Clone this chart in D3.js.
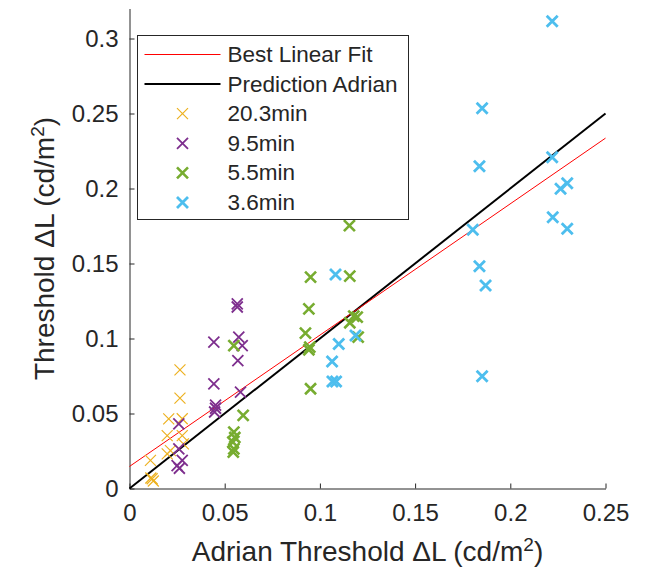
<!DOCTYPE html>
<html>
<head>
<meta charset="utf-8">
<script src="https://cdn.jsdelivr.net/npm/d3@7"></script>
<style>
  body { margin: 0; background: #fff; }
  svg text { font-family: "Liberation Sans", Arial, sans-serif; fill: #262626; }
</style>
</head>
<body>
<div id="chart"></div>
<script>
const yellow203 = [
    [0.0265, 0.0791], [0.0265, 0.0602], [0.0206, 0.0464], [0.0277, 0.0465],
    [0.0198, 0.0353], [0.0277, 0.0353], [0.0215, 0.0253], [0.0283, 0.0298],
    [0.0198, 0.0231], [0.0110, 0.0187], [0.0119, 0.0065], [0.0125, 0.0050],
    [0.0112, 0.0070]
];
const purple95 = [
    [0.0566, 0.1231], [0.0566, 0.1210], [0.0443, 0.0976], [0.0574, 0.1009],
    [0.0592, 0.0953], [0.0569, 0.0853], [0.0443, 0.0698], [0.0583, 0.0642],
    [0.0452, 0.0556], [0.0452, 0.0535], [0.0447, 0.0510], [0.0259, 0.0431],
    [0.0259, 0.0264], [0.0277, 0.0187], [0.0250, 0.0153], [0.0262, 0.0135]
];
const green55 = [
    [0.1155, 0.1753], [0.0951, 0.1409], [0.1157, 0.1416], [0.0942, 0.1198],
    [0.0924, 0.1036], [0.0947, 0.0942], [0.0942, 0.0925], [0.1178, 0.1149],
    [0.1196, 0.1142], [0.1157, 0.1105], [0.1201, 0.1009], [0.0951, 0.0665],
    [0.0548, 0.0953], [0.0597, 0.0487], [0.0548, 0.0376], [0.0553, 0.0340],
    [0.0543, 0.0309], [0.0548, 0.0264], [0.0545, 0.0242]
];
const blue36 = [
    [0.2220, 0.3115], [0.1852, 0.2535], [0.1838, 0.2149], [0.2220, 0.2209],
    [0.2264, 0.1998], [0.2299, 0.2035], [0.2223, 0.1809], [0.2299, 0.1731],
    [0.1803, 0.1725], [0.1838, 0.1482], [0.1870, 0.1353], [0.1852, 0.0749],
    [0.1082, 0.1427], [0.1187, 0.1020], [0.1099, 0.0964], [0.1064, 0.0847],
    [0.1066, 0.0713], [0.1085, 0.0713]
];

const seriesNames = ["20.3min", "9.5min", "5.5min", "3.6min"];
const seriesColors = ["#EDB120", "#7E2F8E", "#77AC30", "#4DBEEE"];
const seriesWidths = [1.2, 1.8, 2.6, 2.8];
const seriesData = [yellow203, purple95, green55, blue36];

// fitted line y = a + b*x, and the prediction y = x
const fitIntercept = 0.0147;
const fitSlope = 0.8755;
const lineNames = ["Best Linear Fit", "Prediction Adrian"];

const xTicks = [0, 0.05, 0.1, 0.15, 0.2, 0.25];
const xTickLabels = ["0", "0.05", "0.1", "0.15", "0.2", "0.25"];
const yTicks = [0, 0.05, 0.1, 0.15, 0.2, 0.25, 0.3];
const yTickLabels = ["0", "0.05", "0.1", "0.15", "0.2", "0.25", "0.3"];

const width = 654, height = 574;
const axisColor = "#262626";

const svg = d3.select("#chart").append("svg")
    .attr("width", width)
    .attr("height", height);

const x = d3.scaleLinear().domain([0, 0.25]).range([129.5, 605.5]);
const y = d3.scaleLinear().domain([0, 0.32]).range([488.5, 8.5]);

// axes (ticks point inward like matlab)
const xAxis = svg.append("g")
    .attr("transform", `translate(0,${y(0)})`)
    .call(d3.axisBottom(x)
        .tickValues(xTicks)
        .tickFormat((d, i) => xTickLabels[i])
        .tickSizeInner(-5)
        .tickSizeOuter(0)
        .tickPadding(15));

const yAxis = svg.append("g")
    .attr("transform", `translate(${x(0)},0)`)
    .call(d3.axisLeft(y)
        .tickValues(yTicks)
        .tickFormat((d, i) => yTickLabels[i])
        .tickSizeInner(-5)
        .tickSizeOuter(0)
        .tickPadding(11));

[xAxis, yAxis].forEach(g => {
    g.select(".domain").attr("stroke", axisColor).attr("stroke-width", 1);
    g.selectAll(".tick line").attr("stroke", axisColor).attr("stroke-width", 1);
    g.selectAll(".tick text")
        .attr("fill", axisColor)
        .style("font-size", "24px")
        .style("font-family", "Liberation Sans, Arial, sans-serif");
});

// lines
const xEnds = [0, 0.25];
const plot = svg.append("g");

plot.append("line")
    .attr("x1", x(xEnds[0])).attr("y1", y(xEnds[0]))
    .attr("x2", x(xEnds[1])).attr("y2", y(xEnds[1]))
    .attr("stroke", "#000")
    .attr("stroke-width", 2);

plot.append("line")
    .attr("x1", x(xEnds[0])).attr("y1", y(fitIntercept + fitSlope * xEnds[0]))
    .attr("x2", x(xEnds[1])).attr("y2", y(fitIntercept + fitSlope * xEnds[1]))
    .attr("stroke", "#FF0000")
    .attr("stroke-width", 1);

// x markers
const markerHalf = 5.5;
const crossPath = (cx, cy, h) =>
    `M${cx - h},${cy - h}L${cx + h},${cy + h}M${cx - h},${cy + h}L${cx + h},${cy - h}`;

seriesData.forEach((data, s) => {
    plot.append("g")
        .selectAll("path")
        .data(data)
        .enter()
        .append("path")
        .attr("d", d => crossPath(x(d[0]), y(d[1]), markerHalf))
        .attr("fill", "none")
        .attr("stroke", seriesColors[s])
        .attr("stroke-width", seriesWidths[s]);
});

// legend
const legend = svg.append("g").attr("transform", "translate(137.5,35.5)");
legend.append("rect")
    .attr("width", 271)
    .attr("height", 184)
    .attr("fill", "#fff")
    .attr("stroke", axisColor)
    .attr("stroke-width", 1);

const rowY = i => 19 + i * 29.6;
const textX = 90;

legend.append("line")
    .attr("x1", 7).attr("x2", 83)
    .attr("y1", rowY(0)).attr("y2", rowY(0))
    .attr("stroke", "#FF0000").attr("stroke-width", 1);
legend.append("line")
    .attr("x1", 7).attr("x2", 83)
    .attr("y1", rowY(1)).attr("y2", rowY(1))
    .attr("stroke", "#000").attr("stroke-width", 2);

lineNames.forEach((name, i) => {
    legend.append("text")
        .attr("x", textX)
        .attr("y", rowY(i))
        .attr("dominant-baseline", "central")
        .style("font-size", "22.5px")
        .text(name);
});

seriesNames.forEach((name, s) => {
    const cy = rowY(s + 2);
    legend.append("path")
        .attr("d", crossPath(45, cy, markerHalf))
        .attr("fill", "none")
        .attr("stroke", seriesColors[s])
        .attr("stroke-width", seriesWidths[s]);
    legend.append("text")
        .attr("x", textX)
        .attr("y", cy)
        .attr("dominant-baseline", "central")
        .style("font-size", "22.5px")
        .text(name);
});

// axis labels
const xLabel = svg.append("text")
    .attr("x", (x(0) + x(0.25)) / 2)
    .attr("y", 561)
    .attr("text-anchor", "middle")
    .style("font-size", "28px");
xLabel.append("tspan").text("Adrian Threshold \u0394L (cd/m");
xLabel.append("tspan").attr("baseline-shift", "super").style("font-size", "19px").text("2");
xLabel.append("tspan").text(")");

const yLabel = svg.append("text")
    .attr("transform", `translate(54,${(y(0) + y(0.32)) / 2}) rotate(-90)`)
    .attr("text-anchor", "middle")
    .style("font-size", "28px");
yLabel.append("tspan").text("Threshold \u0394L (cd/m");
yLabel.append("tspan").attr("baseline-shift", "super").style("font-size", "19px").text("2");
yLabel.append("tspan").text(")");
</script>
</body>
</html>
